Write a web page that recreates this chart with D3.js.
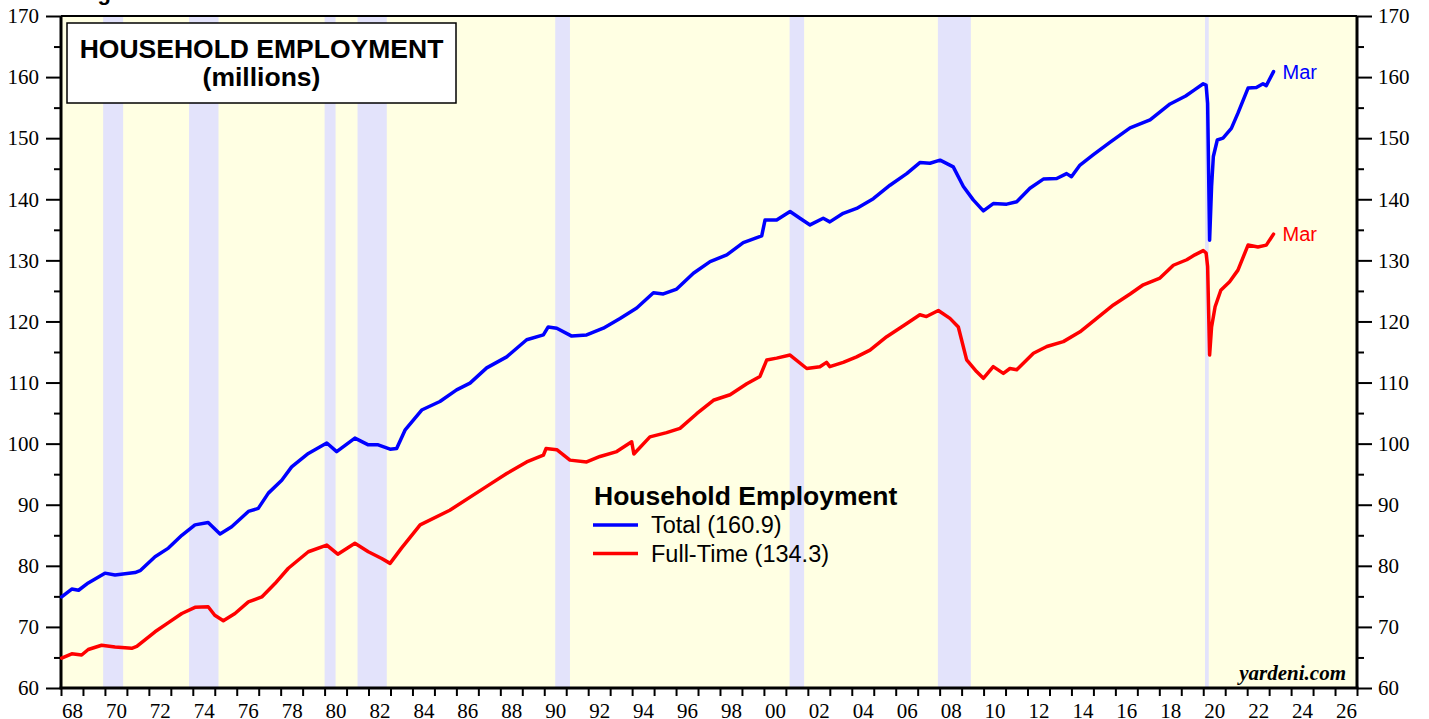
<!DOCTYPE html>
<html>
<head>
<meta charset="utf-8">
<script src="https://cdn.jsdelivr.net/npm/d3@7"></script>
<style>
  body { margin: 0; background: #ffffff; }
  svg { display: block; }
</style>
</head>
<body>
<div id="chart"></div>
<script>
// recession periods (decimal years)
var recStart = [1969.92, 1973.83, 1980.0, 1981.5, 1990.5, 2001.17, 2007.92, 2020.08];
var recEnd   = [1970.83, 1975.17, 1980.5, 1982.83, 1991.17, 2001.83, 2009.42, 2020.25];

// total household employment (millions)
var totalDates = [1968.03, 1968.49, 1968.8, 1969.24, 1970.0, 1970.46, 1971.37, 1971.6, 1972.28, 1972.89,
  1973.5, 1974.1, 1974.7, 1975.24, 1975.77, 1976.53, 1976.98, 1977.44, 1978.05, 1978.5,
  1979.26, 1980.1, 1980.55, 1981.38, 1981.99, 1982.44, 1982.98, 1983.28, 1983.66, 1984.42,
  1985.25, 1986.01, 1986.62, 1987.38, 1988.29, 1989.2, 1989.96, 1990.18, 1990.57, 1991.25,
  1991.93, 1992.69, 1993.45, 1994.21, 1994.97, 1995.42, 1996.03, 1996.79, 1997.55, 1998.31,
  1999.06, 1999.9, 2000.05, 2000.58, 2001.19, 2001.64, 2002.1, 2002.7, 2003.0, 2003.61,
  2004.22, 2004.98, 2005.74, 2006.5, 2007.1, 2007.56, 2008.02, 2008.62, 2009.08, 2009.53,
  2009.99, 2010.44, 2011.05, 2011.51, 2012.11, 2012.72, 2013.33, 2013.78, 2014.0, 2014.39,
  2015.0, 2015.75, 2016.67, 2017.58, 2018.49, 2019.2, 2019.6, 2020.0, 2020.13, 2020.2,
  2020.29, 2020.38, 2020.46, 2020.64, 2020.9, 2021.28, 2021.58, 2022.04, 2022.42, 2022.72,
  2022.87, 2023.2];
var totalValues = [74.9, 76.2, 76.0, 77.2, 78.8, 78.5, 78.9, 79.2, 81.5, 82.9,
  85.0, 86.7, 87.1, 85.2, 86.4, 88.9, 89.4, 91.9, 94.0, 96.2,
  98.4, 100.1, 98.7, 100.9, 99.8, 99.8, 99.1, 99.2, 102.2, 105.5,
  106.9, 108.8, 109.9, 112.4, 114.2, 117.0, 117.8, 119.1, 118.9, 117.6,
  117.8, 118.9, 120.5, 122.2, 124.7, 124.5, 125.3, 127.9, 129.8, 130.9,
  132.9, 134.0, 136.6, 136.6, 138.0, 136.9, 135.8, 136.9, 136.3, 137.7,
  138.5, 140.1, 142.3, 144.2, 146.0, 145.9, 146.4, 145.3, 142.1, 139.9,
  138.1, 139.3, 139.2, 139.6, 141.8, 143.3, 143.4, 144.2, 143.7, 145.6,
  147.3, 149.3, 151.7, 153.0, 155.6, 156.9, 157.9, 158.9, 158.7, 155.7,
  133.3, 142.1, 147.0, 149.7, 150.0, 151.6, 154.1, 158.2, 158.3, 158.9,
  158.6, 160.9];

// full-time household employment (millions)
var fullDates = [1968.03, 1968.49, 1968.94, 1969.24, 1969.85, 1970.46, 1971.22, 1971.45, 1972.28, 1972.89,
  1973.5, 1974.1, 1974.7, 1975.0, 1975.39, 1975.92, 1976.53, 1977.14, 1977.74, 1978.35,
  1979.26, 1980.1, 1980.6, 1981.38, 1981.99, 1982.6, 1982.98, 1983.5, 1984.35, 1985.7,
  1987.38, 1988.29, 1989.2, 1989.96, 1990.08, 1990.57, 1991.17, 1991.93, 1992.54, 1993.3,
  1993.98, 1994.08, 1994.81, 1995.57, 1996.18, 1996.94, 1997.7, 1998.46, 1999.22, 1999.82,
  2000.13, 2000.58, 2001.19, 2001.95, 2002.55, 2002.85, 2003.0, 2003.61, 2004.22, 2004.83,
  2005.59, 2006.35, 2007.1, 2007.4, 2007.94, 2008.47, 2008.85, 2009.23, 2009.68, 2009.99,
  2010.44, 2010.9, 2011.2, 2011.51, 2012.27, 2012.88, 2013.63, 2014.39, 2015.15, 2015.91,
  2016.67, 2017.27, 2018.03, 2018.64, 2019.25, 2019.62, 2020.0, 2020.13, 2020.2, 2020.29,
  2020.38, 2020.54, 2020.8, 2021.2, 2021.58, 2022.04, 2022.49, 2022.87, 2023.2];
var fullValues = [64.9, 65.6, 65.4, 66.3, 67.0, 66.7, 66.5, 66.8, 69.2, 70.7,
  72.2, 73.2, 73.3, 71.9, 71.0, 72.2, 74.1, 74.9, 77.1, 79.6,
  82.3, 83.4, 81.9, 83.7, 82.3, 81.2, 80.4, 82.9, 86.7, 89.1,
  93.0, 95.1, 97.0, 98.1, 99.2, 99.0, 97.3, 97.0, 97.9, 98.7,
  100.3, 98.3, 101.1, 101.8, 102.5, 104.9, 107.1, 108.0, 109.8, 111.0,
  113.7, 114.0, 114.5, 112.3, 112.6, 113.3, 112.6, 113.3, 114.2, 115.3,
  117.5, 119.3, 121.1, 120.8, 121.8, 120.5, 119.1, 113.7, 111.8, 110.7,
  112.6, 111.5, 112.3, 112.1, 114.8, 115.9, 116.7, 118.3, 120.5, 122.7,
  124.5, 126.0, 127.1, 129.2, 130.1, 130.9, 131.6, 131.2, 129.0, 114.5,
  119.1, 122.4, 125.1, 126.5, 128.4, 132.5, 132.2, 132.5, 134.3];

var seriesNames = ["Total (160.9)", "Full-Time (134.3)"];
var seriesColors = ["#0000ff", "#ff0000"];

// set parameters for SVG
var svgWidth = 1429;
var svgHeight = 719;
var plot = { left: 61, right: 1357, top: 16, bottom: 688 };

var svg = d3.select("#chart")
  .append("svg")
  .attr("width", svgWidth)
  .attr("height", svgHeight);

var x = d3.scaleLinear().domain([1968, 2027]).range([plot.left, plot.right]);
var y = d3.scaleLinear().domain([60, 170]).range([plot.bottom, plot.top]);

// background + recession shading
svg.append("rect")
  .attr("x", plot.left).attr("y", plot.top)
  .attr("width", plot.right - plot.left).attr("height", plot.bottom - plot.top)
  .attr("fill", "#ffffe3");

svg.selectAll(".rec")
  .data(recStart)
  .enter()
  .append("rect")
  .attr("class", "rec")
  .attr("x", d => x(d))
  .attr("y", plot.top)
  .attr("width", (d, i) => x(recEnd[i]) - x(d))
  .attr("height", plot.bottom - plot.top)
  .attr("fill", "#e3e3fb");

// partially cut heading at very top
svg.append("text")
  .attr("x", 78).attr("y", 0)
  .attr("font-family", "Liberation Sans, Arial, sans-serif")
  .attr("font-weight", "bold")
  .attr("font-size", 22)
  .text("Figure 1.");

// y axes
var major = d3.range(60, 171, 10);
var minor = d3.range(65, 170, 10);

function styleAxis(g) {
  g.selectAll("text")
    .attr("font-family", "Liberation Serif, Times New Roman, serif")
    .attr("font-size", 21)
    .attr("fill", "#000");
  g.selectAll("line").attr("stroke", "#000").attr("stroke-width", 2);
  g.select(".domain").remove();
}

svg.append("g")
  .attr("transform", `translate(${plot.left},0)`)
  .call(d3.axisLeft(y).tickValues(major).tickSize(15).tickPadding(7))
  .call(styleAxis);
svg.append("g")
  .attr("transform", `translate(${plot.left},0)`)
  .call(d3.axisLeft(y).tickValues(minor).tickSize(7).tickFormat(""))
  .call(styleAxis);
svg.append("g")
  .attr("transform", `translate(${plot.right},0)`)
  .call(d3.axisRight(y).tickValues(major).tickSize(15).tickPadding(6))
  .call(styleAxis);
svg.append("g")
  .attr("transform", `translate(${plot.right},0)`)
  .call(d3.axisRight(y).tickValues(minor).tickSize(7).tickFormat(""))
  .call(styleAxis);

// x axis: tick every year, label every 2nd year centred in the year
svg.append("g")
  .attr("transform", `translate(0,${plot.bottom})`)
  .call(d3.axisBottom(x).tickValues(d3.range(1968, 2028)).tickSize(8).tickFormat(""))
  .call(styleAxis);
svg.append("g")
  .attr("transform", `translate(0,${plot.bottom})`)
  .call(d3.axisBottom(x).tickValues(d3.range(1968.5, 2027, 2)).tickSize(0).tickPadding(15)
    .tickFormat(d => String(Math.floor(d) % 100).padStart(2, "0")))
  .call(styleAxis);

// frame
svg.append("line").attr("x1", plot.left).attr("x2", plot.right).attr("y1", plot.top).attr("y2", plot.top)
  .attr("stroke", "#000").attr("stroke-width", 2);
svg.append("line").attr("x1", plot.left - 1.5).attr("x2", plot.right + 1.5).attr("y1", plot.bottom).attr("y2", plot.bottom)
  .attr("stroke", "#000").attr("stroke-width", 3);
svg.append("line").attr("x1", plot.left).attr("x2", plot.left).attr("y1", plot.top).attr("y2", plot.bottom)
  .attr("stroke", "#000").attr("stroke-width", 3);
svg.append("line").attr("x1", plot.right).attr("x2", plot.right).attr("y1", plot.top).attr("y2", plot.bottom)
  .attr("stroke", "#000").attr("stroke-width", 3);

// lines
var allDates = [totalDates, fullDates];
var allValues = [totalValues, fullValues];
var line = d3.line()
  .x(d => x(d[0]))
  .y(d => y(d[1]));

allDates.forEach((dates, i) => {
  var pts = dates.map((d, j) => [d, allValues[i][j]]);
  svg.append("path")
    .datum(pts)
    .attr("d", line)
    .attr("fill", "none")
    .attr("stroke", seriesColors[i])
    .attr("stroke-width", 3.5)
    .attr("stroke-linejoin", "round")
    .attr("stroke-linecap", "round");

  var last = pts[pts.length - 1];
  svg.append("text")
    .attr("x", x(last[0]) + 9)
    .attr("y", y(last[1]) + 7)
    .attr("font-family", "Liberation Sans, Arial, sans-serif")
    .attr("font-size", 20)
    .attr("fill", seriesColors[i])
    .text("Mar");
});

// title box
svg.append("rect")
  .attr("x", 67).attr("y", 23).attr("width", 389).attr("height", 80)
  .attr("fill", "#fff").attr("stroke", "#000").attr("stroke-width", 1.5);
svg.append("text")
  .attr("x", 261.5).attr("y", 58)
  .attr("text-anchor", "middle")
  .attr("font-family", "Liberation Sans, Arial, sans-serif")
  .attr("font-weight", "bold").attr("font-size", 26.5)
  .text("HOUSEHOLD EMPLOYMENT");
svg.append("text")
  .attr("x", 261.5).attr("y", 86)
  .attr("text-anchor", "middle")
  .attr("font-family", "Liberation Sans, Arial, sans-serif")
  .attr("font-weight", "bold").attr("font-size", 26.5)
  .text("(millions)");

// legend
var legend = svg.append("g").attr("transform", "translate(593,505)");
legend.append("text")
  .attr("x", 1).attr("y", 0)
  .attr("font-family", "Liberation Sans, Arial, sans-serif")
  .attr("font-weight", "bold").attr("font-size", 26.5)
  .text("Household Employment");
seriesNames.forEach((name, i) => {
  legend.append("line")
    .attr("x1", 0).attr("x2", 45)
    .attr("y1", 20 + i * 28.5).attr("y2", 20 + i * 28.5)
    .attr("stroke", seriesColors[i]).attr("stroke-width", 3.5);
  legend.append("text")
    .attr("x", 58).attr("y", 28 + i * 28.5)
    .attr("font-family", "Liberation Sans, Arial, sans-serif")
    .attr("font-size", 23.5)
    .text(name);
});

// source
svg.append("text")
  .attr("x", 1346).attr("y", 680)
  .attr("text-anchor", "end")
  .attr("font-family", "Liberation Serif, Times New Roman, serif")
  .attr("font-weight", "bold").attr("font-style", "italic")
  .attr("font-size", 21)
  .text("yardeni.com");
</script>
</body>
</html>
